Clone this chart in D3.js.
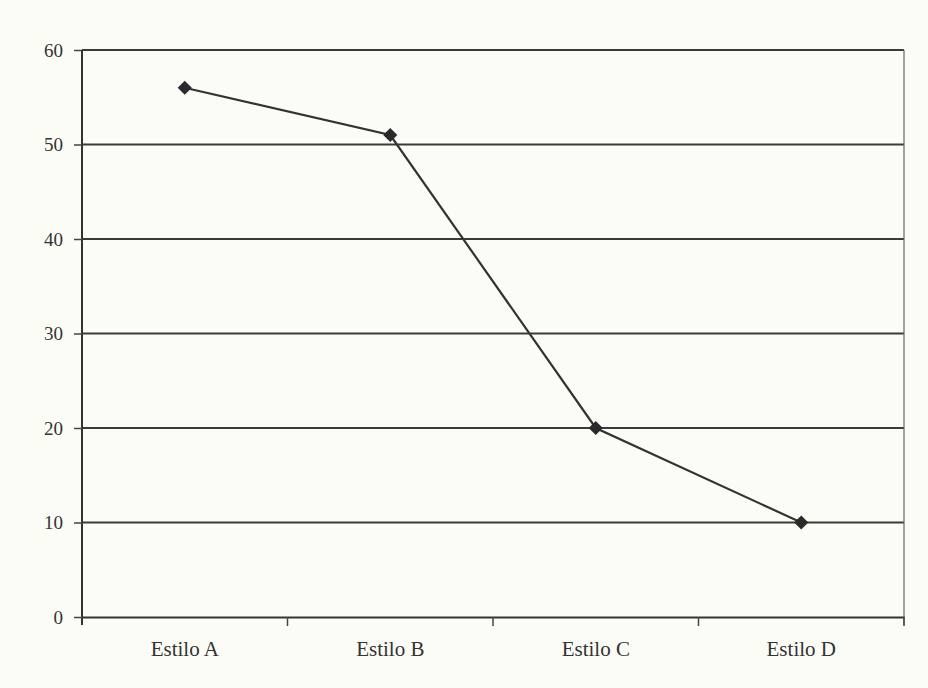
<!DOCTYPE html>
<html>
<head>
<meta charset="utf-8">
<script src="https://cdn.jsdelivr.net/npm/d3@7"></script>
<style>
body{margin:0;background:#fcfcf7;}
svg{display:block;}
text{font-family:"Liberation Serif","DejaVu Serif",serif;fill:#333;}
</style>
</head>
<body>
<script>
var categories=["Estilo A","Estilo B","Estilo C","Estilo D"];
var values=[56,51,20,10];
var yTicks=[0,10,20,30,40,50,60];

var width=928,height=688;
var plotLeft=82,plotRight=904,plotTop=50,plotBottom=617;

var svg=d3.select("body").append("svg")
	.attr("width",width)
	.attr("height",height);

var x=d3.scaleBand()
	.domain(categories)
	.range([plotLeft,plotRight]);
var y=d3.scaleLinear()
	.domain([0,60])
	.range([plotBottom,plotTop]);

// grid lines
svg.selectAll(".grid")
	.data(yTicks.slice(1))
	.enter().append("line")
	.attr("class","grid")
	.attr("x1",plotLeft)
	.attr("x2",plotRight)
	.attr("y1",function(d){return y(d);})
	.attr("y2",function(d){return y(d);})
	.attr("stroke","#3a3a3a")
	.attr("stroke-width",2);

// right border
svg.append("line")
	.attr("x1",plotRight).attr("x2",plotRight)
	.attr("y1",plotTop).attr("y2",plotBottom+8)
	.attr("stroke","#666")
	.attr("stroke-width",1.2);

var yAxis=d3.axisLeft(y).tickValues(yTicks).tickSize(8).tickPadding(11);
var gy=svg.append("g").attr("transform","translate("+plotLeft+",0)").call(yAxis);
gy.select(".domain").attr("stroke","#333").attr("stroke-width",2).attr("d","M0,"+plotTop+"V"+(plotBottom+8));
gy.selectAll(".tick line").attr("stroke","#444").attr("stroke-width",1.5);
gy.selectAll(".tick text").attr("font-size",19).attr("fill","#333")
	.attr("font-family","'Liberation Serif',serif");

var xAxis=d3.axisBottom(x).tickSize(0).tickPadding(24);
var gx=svg.append("g").attr("transform","translate(0,"+plotBottom+")").call(xAxis);
gx.select(".domain").attr("stroke","#333").attr("stroke-width",2);
gx.selectAll(".tick text").attr("font-size",21).attr("fill","#333")
	.attr("font-family","'Liberation Serif',serif");

// category boundary ticks
var bounds=categories.map(function(c){return x(c);}).concat([x.range()[1]]);
svg.selectAll(".xtick")
	.data(bounds.slice(1))
	.enter().append("line")
	.attr("x1",function(d){return d;})
	.attr("x2",function(d){return d;})
	.attr("y1",plotBottom)
	.attr("y2",plotBottom+9)
	.attr("stroke","#444")
	.attr("stroke-width",1.5);

var data=categories.map(function(c,i){return {cat:c,val:values[i]};});

var line=d3.line()
	.x(function(d){return x(d.cat)+x.bandwidth()/2;})
	.y(function(d){return y(d.val);});

svg.append("path")
	.attr("d",line(data))
	.attr("fill","none")
	.attr("stroke","#333")
	.attr("stroke-width",2.2);

svg.selectAll(".pt")
	.data(data)
	.enter().append("path")
	.attr("class","pt")
	.attr("d",d3.symbol().type(d3.symbolSquare).size(100))
	.attr("transform",function(d){return "translate("+(x(d.cat)+x.bandwidth()/2)+","+y(d.val)+") rotate(45)";})
	.attr("fill","#2a2a2a");
</script>
</body>
</html>
